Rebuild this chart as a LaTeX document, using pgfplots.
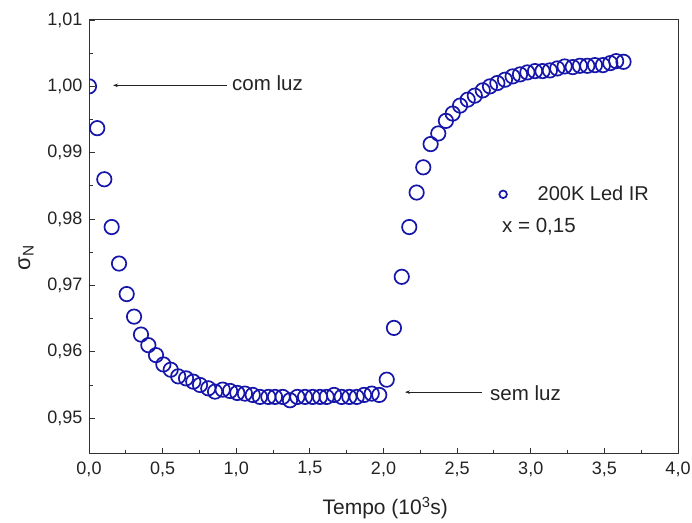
\documentclass[border=0pt]{standalone}
\usepackage{fontspec}
\setmainfont{Liberation Sans}
\usepackage{pgfplots}
\pgfplotsset{compat=1.18}
\usetikzlibrary{arrows.meta}
\definecolor{blueC}{RGB}{22,22,170}
\definecolor{axC}{RGB}{50,50,50}
\definecolor{txC}{RGB}{35,35,35}
\begin{document}
\begin{tikzpicture}
\begin{axis}[
  scale only axis,
  width=589pt, height=434pt,
  xmin=0, xmax=4, ymin=0.9446, ymax=1.01,
  xtick={0,0.5,...,4}, ytick={0.95,0.96,0.97,0.98,0.99,1.00,1.01},
  minor x tick num=1, minor y tick num=1,
  xtick pos=bottom, ytick pos=left,
  tick align=inside,
  major tick length=6pt, minor tick length=3.5pt,
  axis line style={axC, line width=1pt},
  every tick/.style={axC, line width=0.9pt},
  every minor tick/.style={axC, line width=0.9pt},
  tick label style={font=\fontsize{18}{20}\selectfont, text=txC},
  /pgf/number format/assume math mode=true,
  xticklabel style={/pgf/number format/.cd, fixed, fixed zerofill, precision=1, use comma},
  yticklabel style={/pgf/number format/.cd, fixed, fixed zerofill, precision=2, use comma},
  xticklabel shift=4pt, yticklabel shift=3pt,
  scaled ticks=false,
  xlabel={Tempo (10\textsuperscript{3}s)},
  ylabel={σ\textsubscript{N}},
  xlabel style={font=\fontsize{21}{23}\selectfont, text=txC, at={(axis description cs:0.503,-0.124)}, anchor=center},
  ylabel style={font=\fontsize{22}{24}\selectfont, text=txC, at={(axis description cs:-0.107,0.452)}, anchor=center},
  clip marker paths=true,
  legend style={at={(axis cs:2.753,0.98373)}, anchor=west, draw=none, fill=none,
    inner sep=0pt, column sep=2pt, font=\fontsize{20}{22}\selectfont, text=txC,
    nodes={inner sep=0pt}},
  legend image code/.code={\path[draw=none,fill=none] (0,0) rectangle (0.6cm,0); \draw[blueC, line width=2.4pt] plot[mark=o, mark size=3.8pt] coordinates {(0.3cm,0cm)};},
]
\addplot[only marks, mark=o, mark size=7.2pt, blueC, mark options={line width=1.7pt}] table {
x y
0.000 1.0000
0.056 0.9937
0.104 0.9860
0.154 0.9788
0.204 0.9733
0.256 0.9687
0.306 0.9653
0.353 0.9626
0.403 0.9610
0.455 0.9595
0.505 0.9581
0.555 0.9573
0.606 0.9563
0.659 0.9560
0.708 0.9555
0.754 0.9550
0.810 0.9545
0.856 0.9540
0.908 0.9543
0.958 0.9541
1.007 0.9538
1.059 0.9537
1.112 0.9535
1.161 0.9532
1.218 0.9532
1.263 0.9532
1.315 0.9532
1.365 0.9527
1.415 0.9532
1.467 0.9532
1.519 0.9532
1.569 0.9532
1.614 0.9532
1.664 0.9535
1.716 0.9532
1.768 0.9532
1.818 0.9532
1.868 0.9535
1.920 0.9537
1.971 0.9535
2.022 0.9558
2.071 0.9636
2.124 0.9713
2.175 0.9788
2.225 0.9840
2.270 0.9878
2.320 0.9913
2.372 0.9929
2.424 0.9948
2.470 0.9959
2.520 0.9971
2.572 0.9980
2.620 0.9986
2.674 0.9994
2.723 1.0000
2.773 1.0005
2.825 1.0010
2.877 1.0015
2.927 1.0018
2.977 1.0021
3.029 1.0023
3.080 1.0023
3.130 1.0024
3.180 1.0027
3.230 1.0030
3.285 1.0029
3.334 1.0031
3.384 1.0031
3.436 1.0032
3.490 1.0032
3.540 1.0035
3.580 1.0038
3.630 1.0037
};
\addlegendentry{\hspace{24pt}200K Led IR}
\draw[-{Stealth[length=5pt,width=3.5pt]}, line width=0.6pt, txC] (axis cs:0.937,1.00015) -- (axis cs:0.163,1.00015);
\node[anchor=west, inner sep=0pt, text=txC, font=\fontsize{20.5}{22}\selectfont] at (axis cs:0.971,1.00051) {com luz};
\draw[-{Stealth[length=5pt,width=3.5pt]}, line width=0.6pt, txC] (axis cs:2.669,0.95392) -- (axis cs:2.146,0.95392);
\node[anchor=west, inner sep=0pt, text=txC, font=\fontsize{20.5}{22}\selectfont] at (axis cs:2.723,0.95383) {sem luz};
\node[anchor=west, inner sep=0pt, text=txC, font=\fontsize{20.5}{22}\selectfont] at (axis cs:2.805,0.97884) {x = 0,15};
\coordinate (sw) at (rel axis cs:0,0);
\coordinate (ne) at (rel axis cs:1,1);
\end{axis}
\pgfresetboundingbox
\path ([shift={(-89pt,-69pt)}]sw) rectangle ([shift={(14pt,20pt)}]ne);
\end{tikzpicture}
\end{document}
